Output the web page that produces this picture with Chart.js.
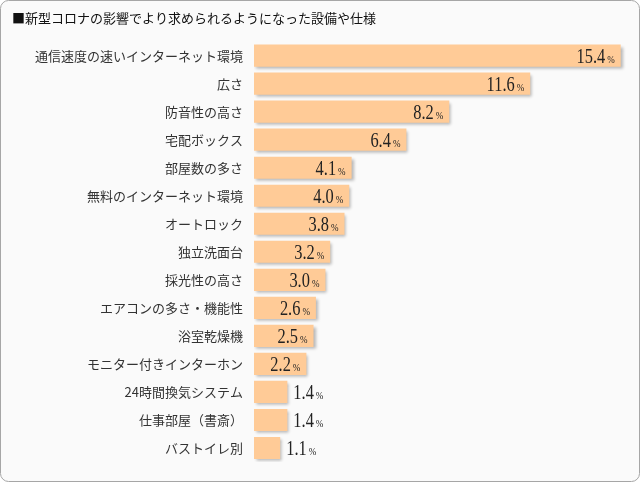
<!DOCTYPE html>
<html lang="ja">
<head>
<meta charset="utf-8">
<title>新型コロナの影響でより求められるようになった設備や仕様</title>
<script src="https://cdn.jsdelivr.net/npm/chart.js@4/dist/chart.umd.min.js"></script>
<style>
  html, body { margin: 0; padding: 0; background: #fff; }
  #wrap { width: 640px; height: 482px; }
</style>
</head>
<body>
<div id="wrap"><canvas id="chart" width="640" height="482"></canvas></div>
<script>
// chart data
const titleText = '■新型コロナの影響でより求められるようになった設備や仕様';
const categories = [
  '通信速度の速いインターネット環境',
  '広さ',
  '防音性の高さ',
  '宅配ボックス',
  '部屋数の多さ',
  '無料のインターネット環境',
  'オートロック',
  '独立洗面台',
  '採光性の高さ',
  'エアコンの多さ・機能性',
  '浴室乾燥機',
  'モニター付きインターホン',
  '24時間換気システム',
  '仕事部屋（書斎）',
  'バストイレ別'
];
const values = [15.4, 11.6, 8.2, 6.4, 4.1, 4.0, 3.8, 3.2, 3.0, 2.6, 2.5, 2.2, 1.4, 1.4, 1.1];

const JP_FONT = '"Noto Sans CJK JP", "Noto Sans", sans-serif';
const NUM_FONT = '"Liberation Serif", "DejaVu Serif", serif';

// rounded frame + light background
const framePlugin = {
  id: 'frame',
  beforeDraw(chart) {
    const ctx = chart.ctx;
    const w = chart.width, h = chart.height, r = 8;
    ctx.save();
    ctx.beginPath();
    ctx.roundRect(0.5, 0.5, w - 1, h - 1, r);
    ctx.fillStyle = '#fafafa';
    ctx.fill();
    ctx.strokeStyle = '#a6a6a6';
    ctx.lineWidth = 1;
    ctx.stroke();
    ctx.restore();
  }
};

// soft drop shadow under the bars
const shadowPlugin = {
  id: 'barShadow',
  beforeDatasetsDraw(chart) {
    const ctx = chart.ctx;
    ctx.save();
    ctx.shadowColor = 'rgba(0, 0, 0, 0.28)';
    ctx.shadowOffsetX = 2;
    ctx.shadowOffsetY = 2;
    ctx.shadowBlur = 3;
  },
  afterDatasetsDraw(chart) {
    chart.ctx.restore();
  }
};

// value labels: condensed serif number, smaller "%"
const valueLabels = {
  id: 'valueLabels',
  afterDatasetsDraw(chart) {
    const ctx = chart.ctx;
    const meta = chart.getDatasetMeta(0);
    const sx = 0.82; // squeeze the digits a bit
    ctx.save();
    ctx.fillStyle = '#222';
    ctx.textBaseline = 'alphabetic';
    ctx.textAlign = 'left';
    meta.data.forEach((bar, i) => {
      const v = values[i];
      const num = v.toFixed(1);
      ctx.font = '20px ' + NUM_FONT;
      const nw = ctx.measureText(num).width * sx;
      ctx.font = '11px ' + NUM_FONT;
      const pw = ctx.measureText('%').width * sx;
      const gap = 2;
      const total = nw + gap + pw;
      const x = v >= 2 ? bar.x - 6 - total : bar.x + 6;
      const y = bar.y + 7;
      ctx.save();
      ctx.translate(x, y);
      ctx.scale(sx, 1);
      ctx.font = '20px ' + NUM_FONT;
      ctx.fillText(num, 0, 0);
      ctx.font = '11px ' + NUM_FONT;
      ctx.fillText('%', (nw + gap) / sx, 0);
      ctx.restore();
    });
    ctx.restore();
  }
};

const ctx = document.getElementById('chart').getContext('2d');
new Chart(ctx, {
  type: 'bar',
  data: {
    labels: categories,
    datasets: [{
      data: values,
      backgroundColor: '#ffcb97',
      borderWidth: 0,
      barPercentage: 0.79,
      categoryPercentage: 1.0
    }]
  },
  options: {
    indexAxis: 'y',
    responsive: false,
    animation: false,
    layout: {
      padding: { left: 12, right: 5, top: 0, bottom: 20 }
    },
    plugins: {
      legend: { display: false },
      tooltip: { enabled: false },
      title: {
        display: true,
        text: titleText,
        align: 'start',
        color: '#111',
        font: { family: JP_FONT, size: 13, weight: 'normal' },
        padding: { top: 10, bottom: 16 }
      }
    },
    scales: {
      x: {
        display: false,
        min: 0,
        max: 16
      },
      y: {
        grid: { display: false },
        border: { display: false },
        ticks: {
          color: '#333',
          padding: 3,
          font: { family: JP_FONT, size: 13 }
        },
        afterFit(scale) {
          scale.width = 242;
        }
      }
    }
  },
  plugins: [framePlugin, shadowPlugin, valueLabels]
});
</script>
</body>
</html>
